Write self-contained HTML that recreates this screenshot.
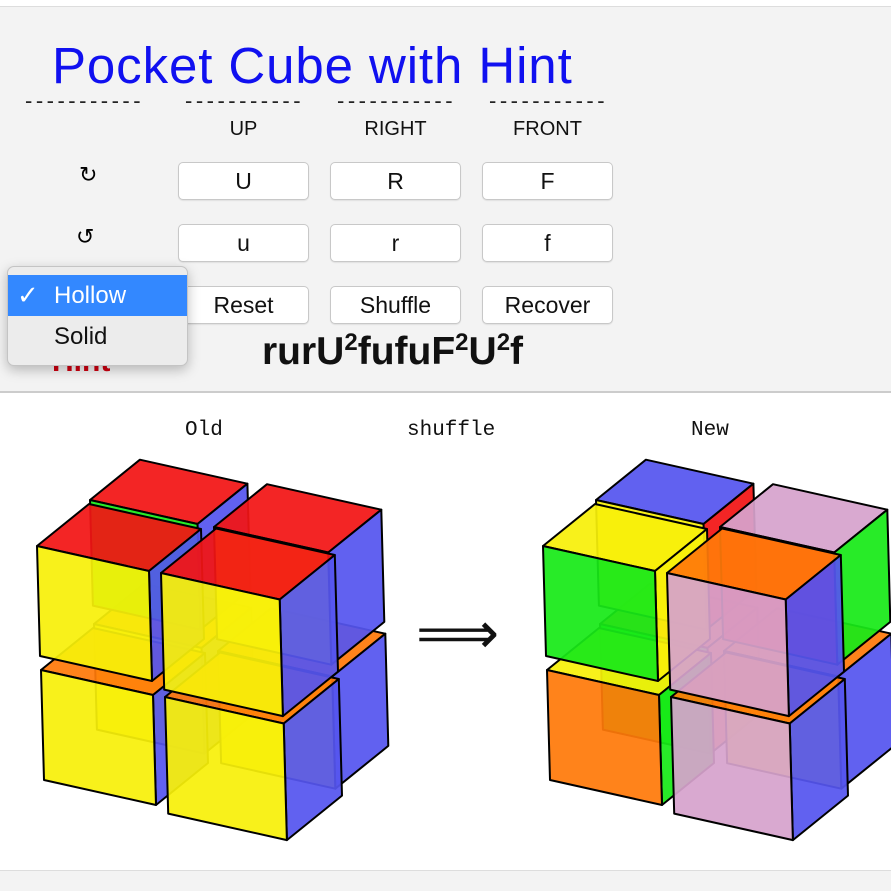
<!DOCTYPE html>
<html><head><meta charset="utf-8">
<style>
body{margin:0;width:891px;height:890px;background:#fff;position:relative;overflow:hidden;font-family:"Liberation Sans",sans-serif}
.top{position:absolute;left:0;top:6px;width:891px;height:384px;background:#f3f3f3;border-top:1px solid #ddd;border-bottom:2px solid #ccc}
.abs{position:absolute}
.title{left:52px;top:36px;font-size:51px;color:#1010f0;white-space:nowrap;letter-spacing:0.9px}
.dash{top:88px;font-size:22px;color:#222;letter-spacing:3.5px}
.lab{top:118px;font-size:20px;color:#111;width:131px;text-align:center}
.btn{width:129px;height:36px;background:#fff;border:1px solid #c8c8c8;border-radius:5px;font-size:23px;text-align:center;line-height:36px;color:#111;box-shadow:0 1px 1px rgba(0,0,0,.08)}
.menu{left:7px;top:266px;width:179px;height:98px;background:#ececec;border:1px solid #c4c4c4;border-radius:7px;box-shadow:0 4px 12px rgba(0,0,0,.25)}
.mono{font-family:"Liberation Mono",monospace;font-size:21px;color:#111}
.bot{position:absolute;left:0;top:870px;width:891px;height:20px;background:#f3f3f3;border-top:1px solid #ddd}
</style></head><body>
<div class="top"></div>
<div class="abs title">Pocket Cube with Hint</div>
<div class="abs dash" style="left:25px">-----------</div>
<div class="abs dash" style="left:185px">-----------</div>
<div class="abs dash" style="left:337px">-----------</div>
<div class="abs dash" style="left:489px">-----------</div>
<div class="abs lab" style="left:178px">UP</div>
<div class="abs lab" style="left:330px">RIGHT</div>
<div class="abs lab" style="left:482px">FRONT</div>
<div class="abs" style="left:79px;top:162px;font-size:22px">↻</div>
<div class="abs" style="left:76px;top:224px;font-size:22px">↺</div>
<div class="abs btn" style="left:178px;top:162px">U</div>
<div class="abs btn" style="left:330px;top:162px">R</div>
<div class="abs btn" style="left:482px;top:162px">F</div>
<div class="abs btn" style="left:178px;top:224px">u</div>
<div class="abs btn" style="left:330px;top:224px">r</div>
<div class="abs btn" style="left:482px;top:224px">f</div>
<div class="abs btn" style="left:178px;top:286px">Reset</div>
<div class="abs btn" style="left:330px;top:286px">Shuffle</div>
<div class="abs btn" style="left:482px;top:286px">Recover</div>
<div class="abs" style="left:52px;top:345px;font-size:30px;font-weight:bold;color:#d00010;height:28px;overflow:hidden">Hint</div>
<div class="abs" style="left:262px;top:329px;font-size:39px;font-weight:bold;color:#111;white-space:nowrap">rurU<sup style="font-size:24px">2</sup>fufuF<sup style="font-size:24px">2</sup>U<sup style="font-size:24px">2</sup>f</div>
<div class="abs menu">
 <div style="position:absolute;left:0;top:8px;width:179px;height:41px;background:#3388ff;color:#fff;font-size:24px;line-height:41px"><span style="position:absolute;left:9px;font-size:26px">✓</span><span style="position:absolute;left:46px">Hollow</span></div>
 <div style="position:absolute;left:46px;top:52px;font-size:24px;line-height:36px;color:#111">Solid</div>
</div>
<div class="abs mono" style="left:185px;top:419px">Old</div>
<div class="abs mono" style="left:407px;top:419px">shuffle</div>
<div class="abs mono" style="left:691px;top:419px">New</div>
<div class="abs" style="left:416px;top:604px;font-size:58px;line-height:60px;color:#111">⟹</div>
<svg id="sv" class="abs" style="left:0;top:0" width="891" height="890"></svg>
<div class="bot"></div>
<script>
var R='#f21414',Y='#f7f00a',B='#5555ef',G='#18ea18',O='#ff7a0a',P='#d6a2cc';
function P2(o,v){return [o[0]+v[0],o[1]+v[1]];}
function draw(ox,cols){
 var X=[112,25],Yv=[3,110],Z=[52,-42];
 var out='';
 var order=[];
 for(var k=1;k>=0;k--)for(var j=1;j>=0;j--)for(var i=0;i<2;i++)order.push([i,j,k]);
 order.forEach(function(c){
  var i=c[0],j=c[1],k=c[2];
  var key=''+i+j+k; var cc=cols[key]||{};
  var sc=1+0.06*i-0.04*k;
  var o=[ox+i*124+j*4+k*53,546+i*27+j*124-k*46];
  var x=[X[0]*sc,X[1]*sc],y=[Yv[0]*sc,Yv[1]*sc],z=[Z[0]*sc,Z[1]*sc];
  var a=o,b=P2(o,x),c2=P2(b,y),d=P2(o,y),e=P2(o,z),f=P2(b,z),g=P2(c2,z);
  function poly(pts,col){return '<polygon points="'+pts.map(function(p){return p[0].toFixed(1)+','+p[1].toFixed(1)}).join(' ')+'" fill="'+col+'" fill-opacity="0.93" stroke="#000" stroke-width="2" stroke-linejoin="round"/>';}
  out+=poly([a,b,f,e],cc.t||'#ddd');
  out+=poly([b,f,g,c2],cc.r||'#ddd');
  out+=poly([a,b,c2,d],cc.f||'#ddd');
 });
 return out;
}
var old={},nw={};
['000','100','001','101','010','110','011','111'].forEach(function(k){old[k]={t:R,f:Y,r:B};});
old['010'].t=O;old['110'].t=O;old['011'].t=O;old['111'].t=O;
old['001'].f=G;
nw['001']={t:B,f:Y,r:R};
nw['101']={t:P,f:R,r:G};
nw['000']={t:Y,f:G,r:Y};
nw['100']={t:O,f:P,r:B};
nw['010']={t:Y,f:O,r:G};
nw['110']={t:O,f:P,r:B};
nw['011']={t:O,f:G,r:O};
nw['111']={t:O,f:Y,r:B};
document.getElementById('sv').innerHTML=draw(37,old)+draw(543,nw);
</script>
</body></html>
